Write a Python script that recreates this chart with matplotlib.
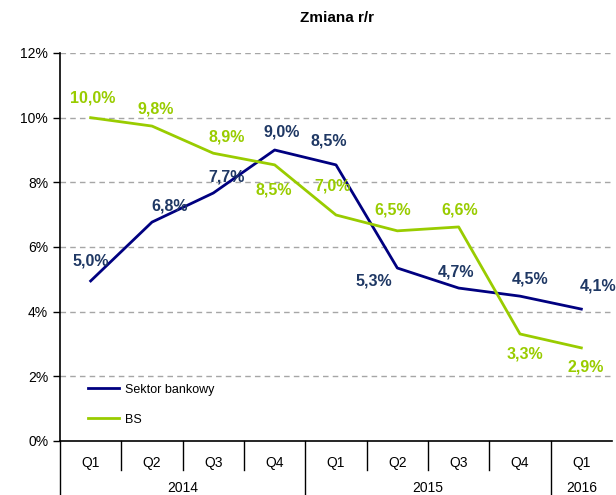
import matplotlib.pyplot as plt

plt.rcParams['font.family'] = ['Liberation Sans', 'DejaVu Sans']

# dane
kwartaly = ["Q1", "Q2", "Q3", "Q4", "Q1", "Q2", "Q3", "Q4", "Q1"]
lata = ["2014", "2015", "2016"]
lata_start = [0, 4, 8]
lata_koniec = [4, 8, 9]
sektor = [4.95, 6.77, 7.67, 9.0, 8.54, 5.35, 4.73, 4.48, 4.08]
sektor_etyk = ["5,0%", "6,8%", "7,7%", "9,0%", "8,5%", "5,3%", "4,7%", "4,5%", "4,1%"]
bs = [10.0, 9.74, 8.9, 8.54, 6.99, 6.5, 6.62, 3.31, 2.88]
bs_etyk = ["10,0%", "9,8%", "8,9%", "8,5%", "7,0%", "6,5%", "6,6%", "3,3%", "2,9%"]

# przesuniecia etykiet (piksele)
sektor_off = [(0, 20), (18, 16), (13, 16), (7, 18), (-7, 24), (-24, -13), (-3, 16), (10, 17), (17, 23)]
bs_off = [(2, 20), (4, 17), (13, 16), (-1, -25), (-3, 29), (-5, 21), (1, 17), (5, -20), (4, -19)]

granat = "#000080"
granat_txt = "#1F3864"
zielony = "#99CC00"

fig = plt.figure(figsize=(6.16, 4.95), dpi=100)
ax = fig.add_axes([60/616, 54/495, 552/616, 388/495])

x = list(range(len(kwartaly)))
ax.plot(x, sektor, color=granat, lw=2, label="Sektor bankowy")
ax.plot(x, bs, color=zielony, lw=2, label="BS")

for i in x:
    ax.annotate(sektor_etyk[i], (i, sektor[i]), xytext=sektor_off[i], textcoords='offset pixels',
                ha='center', va='center', fontsize=11.5, fontweight='bold', color=granat_txt)
    ax.annotate(bs_etyk[i], (i, bs[i]), xytext=bs_off[i], textcoords='offset pixels',
                ha='center', va='center', fontsize=11.5, fontweight='bold', color=zielony)

ax.set_xlim(-0.5, 8.5)
ax.set_ylim(0, 12)
ax.set_yticks(range(0, 13, 2))
ax.set_yticklabels([f"{v}%" for v in range(0, 13, 2)], fontsize=10)
ax.tick_params(axis='y', length=5, width=1, direction='out')
ax.set_xticks([])
for v in range(2, 13, 2):
    ax.axhline(v, color="#A6A6A6", ls=(0, (4, 3)), lw=1, zorder=0)

ax.spines['top'].set_visible(False)
ax.spines['right'].set_visible(False)
ax.spines['left'].set_linewidth(1.2)
ax.spines['bottom'].set_linewidth(1.2)

# os x dwupoziomowa
tr = ax.get_xaxis_transform()
for i, k in enumerate(kwartaly):
    ax.text(i, -0.057, k, transform=tr, ha='center', va='center', fontsize=10)
for i in range(1, len(kwartaly)):
    if i in lata_start:
        continue
    ax.plot([i - 0.5, i - 0.5], [0, -0.075], transform=tr, color='black', lw=1, clip_on=False)
for s, e, r in zip(lata_start, lata_koniec, lata):
    ax.text((s + e - 1) / 2, -0.121, r, transform=tr, ha='center', va='center', fontsize=10)
    ax.plot([s - 0.5, s - 0.5], [0, -0.14], transform=tr, color='black', lw=1, clip_on=False)

ax.legend(loc='lower left', bbox_to_anchor=(0.03, 0.01), frameon=False, fontsize=9,
          handlelength=2.5, labelspacing=1.45, handletextpad=0.5)

fig.text(337/616, 1 - 18/495, "Zmiana r/r", ha='center', va='center', fontsize=11, fontweight='bold')

fig.savefig("out.png", dpi=100)
